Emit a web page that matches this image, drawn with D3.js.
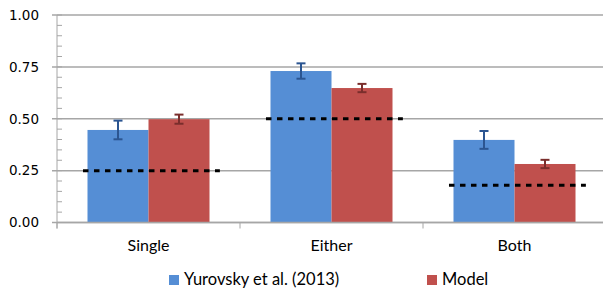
<!DOCTYPE html>
<html>
<head>
<meta charset="utf-8">
<script src="https://cdn.jsdelivr.net/npm/d3@7"></script>
<style>
  body { margin: 0; background: #fff; }
  svg { display: block; }
</style>
</head>
<body>
<div id="chart"></div>
<script>
// values
const categories = ['Single', 'Either', 'Both'];
const seriesNames = ['Yurovsky et al. (2013)', 'Model'];
const yurovsky = [0.446, 0.73, 0.398];
const yurovskyErr = [0.045, 0.037, 0.043];
const model = [0.498, 0.648, 0.282];
const modelErr = [0.022, 0.02, 0.02];
const chance = [0.25, 0.5, 0.18];
const yTicks = [0, 0.25, 0.5, 0.75, 1];

const width = 603, height = 290;
const margin = { top: 15, left: 57, right: -3, bottom: 67.5 };

const colors = ['#558ed5', '#c0504d'];
const errColors = ['#2b5591', '#7a2e2c'];

const svg = d3.select('#chart').append('svg')
    .attr('width', width)
    .attr('height', height);

const x = d3.scaleBand()
    .domain(categories)
    .range([margin.left, width - margin.right]);

const xInner = d3.scaleBand()
    .domain(seriesNames)
    .range([x.bandwidth() / 6, x.bandwidth() * 5 / 6]);

const y = d3.scaleLinear()
    .domain([0, 1])
    .range([height - margin.bottom, margin.top]);

// gridlines
svg.append('g')
    .selectAll('line')
    .data(yTicks)
    .enter().append('line')
    .attr('x1', margin.left - 5)
    .attr('x2', width)
    .attr('y1', d => y(d))
    .attr('y2', d => y(d))
    .attr('stroke', '#a6a6a6')
    .attr('stroke-width', 1.5);

// minor ticks on y axis
svg.append('g')
    .selectAll('line')
    .data(d3.range(0, 1.001, 0.05))
    .enter().append('line')
    .attr('x1', margin.left)
    .attr('x2', margin.left + 5)
    .attr('y1', d => y(d))
    .attr('y2', d => y(d))
    .attr('stroke', '#a6a6a6')
    .attr('stroke-width', 1);

// y axis line
svg.append('line')
    .attr('x1', margin.left).attr('x2', margin.left)
    .attr('y1', y(1)).attr('y2', y(0) + 6)
    .attr('stroke', '#a6a6a6');

// y tick labels
svg.append('g')
    .selectAll('text')
    .data(yTicks)
    .enter().append('text')
    .attr('x', 39)
    .attr('y', d => y(d))
    .attr('dy', '0.36em')
    .attr('text-anchor', 'end')
    .style('font-family', 'DejaVu Sans')
    .style('font-size', '13.5px')
    .attr('fill', '#000')
    .text(d => d.toFixed(2));

const series = [
    { name: seriesNames[0], values: yurovsky, errs: yurovskyErr },
    { name: seriesNames[1], values: model, errs: modelErr }
];

series.forEach((s, si) => {
    const g = svg.append('g');
    g.selectAll('rect')
        .data(categories)
        .enter().append('rect')
        .attr('x', c => x(c) + xInner(s.name))
        .attr('width', xInner.bandwidth())
        .attr('y', (c, i) => y(s.values[i]))
        .attr('height', (c, i) => y(0) - y(s.values[i]))
        .attr('fill', colors[si]);

    // error bars
    const eb = g.selectAll('.err')
        .data(categories)
        .enter().append('g')
        .attr('class', 'err')
        .attr('stroke', errColors[si])
        .attr('stroke-width', 2);
    const cx = c => x(c) + xInner(s.name) + xInner.bandwidth() / 2;
    eb.append('line')
        .attr('x1', cx).attr('x2', cx)
        .attr('y1', (c, i) => y(s.values[i] + s.errs[i]))
        .attr('y2', (c, i) => y(s.values[i] - s.errs[i]));
    eb.append('line')
        .attr('x1', c => cx(c) - 4.5).attr('x2', c => cx(c) + 4.5)
        .attr('y1', (c, i) => y(s.values[i] + s.errs[i]))
        .attr('y2', (c, i) => y(s.values[i] + s.errs[i]));
    eb.append('line')
        .attr('x1', c => cx(c) - 4.5).attr('x2', c => cx(c) + 4.5)
        .attr('y1', (c, i) => y(s.values[i] - s.errs[i]))
        .attr('y2', (c, i) => y(s.values[i] - s.errs[i]));
});

// x axis
svg.append('line')
    .attr('x1', margin.left).attr('x2', width)
    .attr('y1', y(0)).attr('y2', y(0))
    .attr('stroke', '#a6a6a6')
    .attr('stroke-width', 1.5);

svg.append('g')
    .selectAll('line')
    .data(categories)
    .enter().append('line')
    .attr('x1', c => x(c)).attr('x2', c => x(c))
    .attr('y1', y(0)).attr('y2', y(0) + 6)
    .attr('stroke', '#a6a6a6');

svg.append('g')
    .selectAll('text')
    .data(categories)
    .enter().append('text')
    .attr('x', c => x(c) + x.bandwidth() / 2)
    .attr('y', 251)
    .attr('text-anchor', 'middle')
    .style('font-family', 'Lato')
    .style('font-size', '16px')
    .attr('fill', '#000')
    .text(c => c);

// chance level dashed lines
svg.append('g')
    .selectAll('line')
    .data(categories)
    .enter().append('line')
    .attr('x1', c => x(c) + x.bandwidth() * 0.142)
    .attr('x2', c => x(c) + x.bandwidth() * 0.89)
    .attr('y1', (c, i) => y(chance[i]))
    .attr('y2', (c, i) => y(chance[i]))
    .attr('stroke', '#000')
    .attr('stroke-width', 3)
    .attr('stroke-dasharray', '5.5,5.5');

// legend
const legendX = [169, 427];
const legend = svg.append('g')
    .selectAll('g')
    .data(seriesNames)
    .enter().append('g')
    .attr('transform', (d, i) => 'translate(' + legendX[i] + ',275)');
legend.append('rect')
    .attr('width', 10).attr('height', 10)
    .attr('fill', (d, i) => colors[i]);
legend.append('text')
    .attr('x', 15)
    .attr('y', 9.5)
    .style('font-family', 'Lato')
    .style('font-size', '16.5px')
    .attr('fill', '#000')
    .text(d => d);
</script>
</body>
</html>
